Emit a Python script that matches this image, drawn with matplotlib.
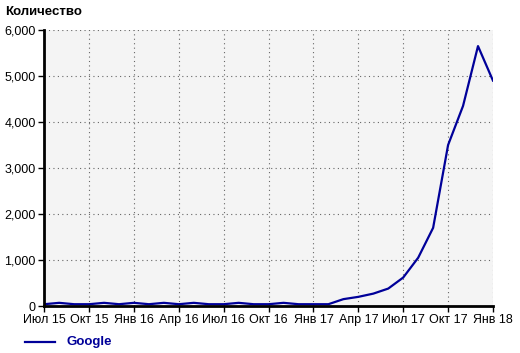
import matplotlib.pyplot as plt
from matplotlib.ticker import FuncFormatter

# monthly values, Jul 2015 .. Jan 2018
months = list(range(31))
google = [40, 70, 40, 40, 70, 40, 70, 40, 70, 40,
          70, 40, 40, 70, 40, 40, 70, 40, 40, 40,
          150, 200, 270, 380, 620, 1050, 1700, 3500, 4350, 5650,
          4900]
tick_pos = [0, 3, 6, 9, 12, 15, 18, 21, 24, 27, 30]
tick_labels = ['Июл 15', 'Окт 15', 'Янв 16', 'Апр 16', 'Июл 16', 'Окт 16',
               'Янв 17', 'Апр 17', 'Июл 17', 'Окт 17', 'Янв 18']

plt.rcParams['font.family'] = ['Liberation Sans', 'DejaVu Sans']
fig = plt.figure(figsize=(5.2, 3.53), dpi=100)
ax = fig.add_axes([0.085, 0.133, 0.863, 0.782])
ax.set_facecolor('#f4f4f4')

ax.plot(months, google, color='#000099', lw=1.6)

ax.set_xlim(0, 30)
ax.set_ylim(0, 6000)
ax.set_xticks(tick_pos)
ax.set_xticklabels(tick_labels)
ax.set_yticks(range(0, 6001, 1000))
ax.yaxis.set_major_formatter(FuncFormatter(lambda v, p: f'{int(v):,}'))
ax.tick_params(labelsize=9, length=4, width=1, pad=2, colors='black')

ax.grid(True, linestyle=(0, (1, 3)), color='#666666', lw=0.8)
for s in ['top', 'right']:
    ax.spines[s].set_visible(False)
for s in ['left', 'bottom']:
    ax.spines[s].set_linewidth(2)

fig.text(0.01, 0.965, 'Количество', fontsize=9.5, fontweight='bold', va='center')
fig.lines.append(plt.Line2D([0.048, 0.106], [0.032, 0.032], color='#000099', lw=1.6,
                            transform=fig.transFigure))
fig.text(0.127, 0.032, 'Google', fontsize=9.5, fontweight='bold', color='#000099', va='center')

fig.savefig('out.png', dpi=100)
